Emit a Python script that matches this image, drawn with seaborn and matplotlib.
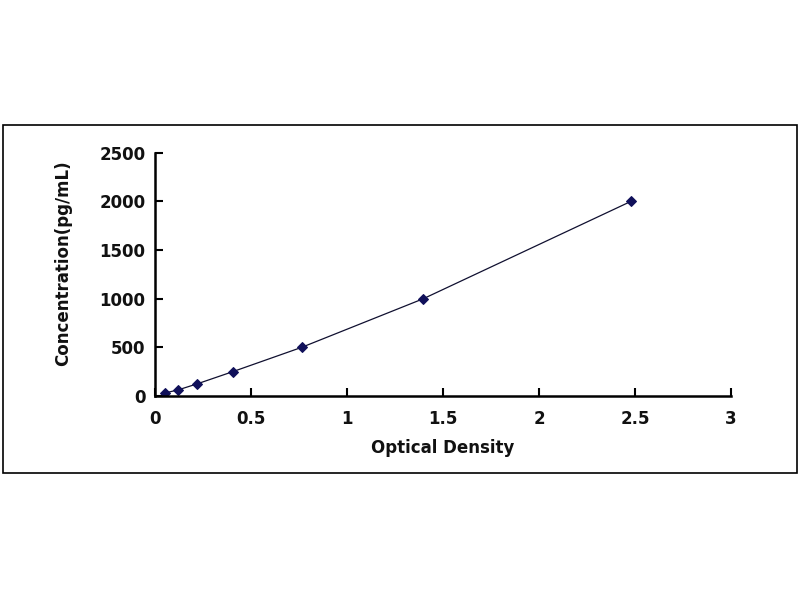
import matplotlib
matplotlib.use("Agg")
import matplotlib.pyplot as plt
import seaborn as sns
import pandas as pd
from matplotlib.patches import Rectangle

od = [0.052, 0.120, 0.220, 0.405, 0.764, 1.398, 2.479]
conc = [31.25, 62.5, 125, 250, 500, 1000, 2000]
x_ticks = [0, 0.5, 1, 1.5, 2, 2.5, 3]
x_tick_labels = ["0", "0.5", "1", "1.5", "2", "2.5", "3"]
y_ticks = [0, 500, 1000, 1500, 2000, 2500]
y_tick_labels = ["0", "500", "1000", "1500", "2000", "2500"]

df = pd.DataFrame({"Optical Density": od, "Concentration": conc})

sns.set_theme(style="white")
plt.rcParams["font.family"] = ["DejaVu Sans"]

fig = plt.figure(figsize=(8, 6), dpi=100)
fig.patch.set_facecolor("white")
fig.patches.append(Rectangle((3 / 800, (600 - 473) / 600), 794 / 800, 348 / 600,
                             transform=fig.transFigure, fill=False,
                             edgecolor="black", linewidth=1.2))

ax = fig.add_axes([155 / 800, (600 - 396) / 600, 576 / 800, 243.3 / 600])
sns.lineplot(data=df, x="Optical Density", y="Concentration", ax=ax,
             color="#101030", linewidth=0.9, marker="D", markersize=5,
             markerfacecolor="#10105a", markeredgecolor="#10105a",
             sort=True, estimator=None)

ax.set_xlim(0, 3)
ax.set_ylim(0, 2500)
ax.set_xticks(x_ticks)
ax.set_xticklabels(x_tick_labels)
ax.set_yticks(y_ticks)
ax.set_yticklabels(y_tick_labels)
for lab in ax.get_xticklabels() + ax.get_yticklabels():
    lab.set_fontweight("bold")
    lab.set_fontsize(12)
    lab.set_color("#111111")

ax.tick_params(axis="both", direction="in", length=6, width=1.5, color="black",
               bottom=True, left=True, top=False, right=False)
ax.tick_params(axis="x", pad=10)
ax.tick_params(axis="y", pad=7)

for s in ["top", "right"]:
    ax.spines[s].set_visible(False)
for s in ["left", "bottom"]:
    ax.spines[s].set_color("black")
    ax.spines[s].set_linewidth(1.8)

ax.set_xlabel("Optical Density", fontsize=12, fontweight="bold", color="#111111", labelpad=8)
ax.set_ylabel("Concentration(pg/mL)", fontsize=12, fontweight="bold", color="#111111")
ax.yaxis.set_label_coords(-0.144, 0.547)
ax.set_facecolor("white")
ax.grid(False)

fig.savefig("out.png", dpi=100, facecolor="white")
